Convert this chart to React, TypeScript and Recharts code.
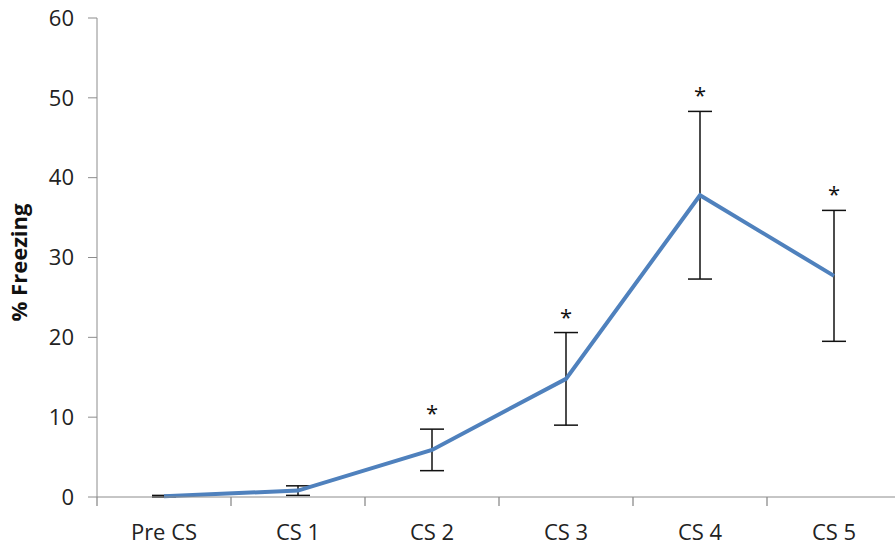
import { LineChart, Line, XAxis, YAxis, ErrorBar, LabelList } from 'recharts';

const categories = ['Pre CS', 'CS 1', 'CS 2', 'CS 3', 'CS 4', 'CS 5'];
const freezing = [0.1, 0.8, 5.9, 14.8, 37.8, 27.7];
const sem = [0.1, 0.6, 2.6, 5.8, 10.5, 8.2];
const significant = [false, false, true, true, true, true];
const yTicks = [0, 10, 20, 30, 40, 50, 60];

const data = categories.map((name, i) => ({
  name,
  freezing: freezing[i],
  sem: sem[i],
  top: freezing[i] + sem[i],
}));

const font = '"Open Sans", sans-serif';
const axisColor = '#8c8c8c';
// the plot runs a little past the right edge of the picture, like the original
const CHART_W = 901;
const Y_AXIS_W = 97;
// half a category slot, so points sit in the middle of each slot
const HALF = (CHART_W - Y_AXIS_W) / categories.length / 2;
const X_TICK_SIZE = 9;
const X_TICK_MARGIN = 12;

function CategoryTick(props: any) {
  const { x, y, payload, index } = props;
  const axisY = y - X_TICK_SIZE - X_TICK_MARGIN;
  const last = index === categories.length - 1;
  return (
    <g>
      <line x1={x - HALF} x2={x - HALF} y1={axisY} y2={axisY + X_TICK_SIZE} stroke={axisColor} strokeWidth={1.3} />
      {last && (
        <line x1={x + HALF} x2={x + HALF} y1={axisY} y2={axisY + X_TICK_SIZE} stroke={axisColor} strokeWidth={1.3} />
      )}
      <text x={x} y={y} dy={22} textAnchor="middle" fill="#222" fontSize={22} fontFamily={font}>
        {payload.value}
      </text>
    </g>
  );
}

function Star(props: any) {
  const { x, y, index } = props;
  if (!significant[index]) return null;
  return (
    <text x={x} y={y - 8} textAnchor="middle" fill="#111" fontSize={22} fontFamily={font}>
      *
    </text>
  );
}

export default function App() {
  return (
    <div style={{ width: 895, height: 546, background: '#fff', overflow: 'hidden' }}>
      <style>{'body{margin:0}'}</style>
      <LineChart width={CHART_W} height={546} data={data} margin={{ top: 18, right: 0, bottom: 0, left: 0 }}>
        <XAxis
          dataKey="name"
          stroke={axisColor}
          tickLine={false}
          tickSize={X_TICK_SIZE}
          tickMargin={X_TICK_MARGIN}
          tick={<CategoryTick />}
          interval={0}
          padding={{ left: HALF, right: HALF }}
          height={49}
        />
        <YAxis
          domain={[0, 60]}
          ticks={yTicks}
          width={Y_AXIS_W}
          stroke={axisColor}
          tickSize={9}
          tickMargin={14}
          tick={{ fill: '#222', fontSize: 22, fontFamily: font }}
          label={{
            value: '% Freezing',
            angle: -90,
            position: 'insideLeft',
            dx: 14,
            dy: 5,
            style: { textAnchor: 'middle', fontWeight: 700, fontSize: 22, fontFamily: font, fill: '#111' },
          }}
        />
        <Line
          dataKey="top"
          stroke="transparent"
          dot={false}
          activeDot={false}
          legendType="none"
          isAnimationActive={false}
        >
          <LabelList dataKey="top" content={<Star />} />
        </Line>
        <Line
          dataKey="freezing"
          stroke="#4F81BD"
          strokeWidth={4}
          dot={false}
          activeDot={false}
          isAnimationActive={false}
        >
          <ErrorBar dataKey="sem" direction="y" width={12} stroke="#111" strokeWidth={1.5} />
        </Line>
      </LineChart>
    </div>
  );
}
